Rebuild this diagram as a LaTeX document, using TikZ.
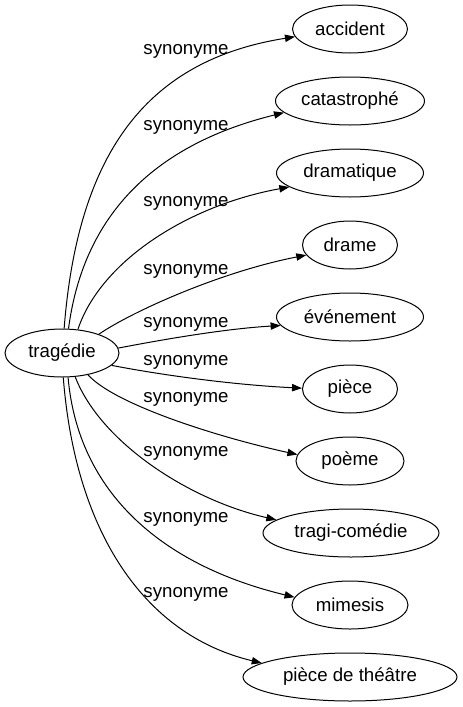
\documentclass[tikz,border=0pt]{standalone}
\usepackage{fontspec}
\setmainfont{Liberation Sans}
\usetikzlibrary{shapes.geometric,arrows.meta}
\begin{document}
\begin{tikzpicture}[x=0.75pt,y=-0.75pt,
  every node/.style={font=\fontsize{14pt}{16pt}\selectfont},
  nd/.style={ellipse,draw,line width=0.75pt,inner sep=0pt,minimum height=36pt,minimum width=#1},
  lbl/.style={anchor=base},
  edge/.style={draw,line width=0.75pt,-{Triangle[length=7.5pt,width=5.5pt]}}]
\useasboundingbox (0,0) rectangle (462,707);
\node[nd=85.5pt] (t) at (62,353) {tragédie};
\node[nd=86.25pt] (n1) at (350,29) {accident};
\node[nd=111.75pt] (n2) at (350,101) {catastrophé};
\node[nd=110.25pt] (n3) at (350,173) {dramatique};
\node[nd=71.25pt] (n4) at (350,245) {drame};
\node[nd=110.25pt] (n5) at (350,317) {événement};
\node[nd=71.25pt] (n6) at (350,389) {pièce};
\node[nd=81pt] (n7) at (350,461) {poème};
\node[nd=132pt] (n8) at (351,533) {tragi-comédie};
\node[nd=87pt] (n9) at (350,605) {mimesis};
\node[nd=160.5pt] (n10) at (350,677) {pièce de théâtre};
\path[edge] (t.85) .. controls +(14,-180) and +(-145,23) .. (n1.188);
\path[edge] (t.75) .. controls +(17,-130) and +(-110,27) .. (n2.190);
\path[edge] (t.56) .. controls +(23,-69) and +(-100,18) .. (n3.193);
\path[edge] (t.27) .. controls +(32,-22) and +(-87,17) .. (n4.193);
\path[edge] (t.5) .. controls +(52,-10) and +(-52,3) .. (n5.187);
\path[edge] (t.-14) .. controls +(57,11) and +(-63,-3) .. (n6.179);
\path[edge] (t.-40) .. controls +(27,30) and +(-78,-17) .. (n7.173);
\path[edge] (t.-61) .. controls +(25,65) and +(-88,-20) .. (n8.170);
\path[edge] (t.-76) .. controls +(10,115) and +(-133,-32) .. (n9.172);
\path[edge] (t.-87) .. controls +(12,154) and +(-118,-28) .. (n10.171);
\node[lbl] (l1) at (186,54) {synonyme};
\node[lbl] (l2) at (186,130) {synonyme};
\node[lbl] (l3) at (186,206) {synonyme};
\node[lbl] (l4) at (186,274) {synonyme};
\node[lbl] (l5) at (186,327) {synonyme};
\node[lbl] (l6) at (186,365) {synonyme};
\node[lbl] (l7) at (186,402) {synonyme};
\node[lbl] (l8) at (186,456) {synonyme};
\node[lbl] (l9) at (186,522) {synonyme};
\node[lbl] (l10) at (186,597) {synonyme};
\end{tikzpicture}
\end{document}
